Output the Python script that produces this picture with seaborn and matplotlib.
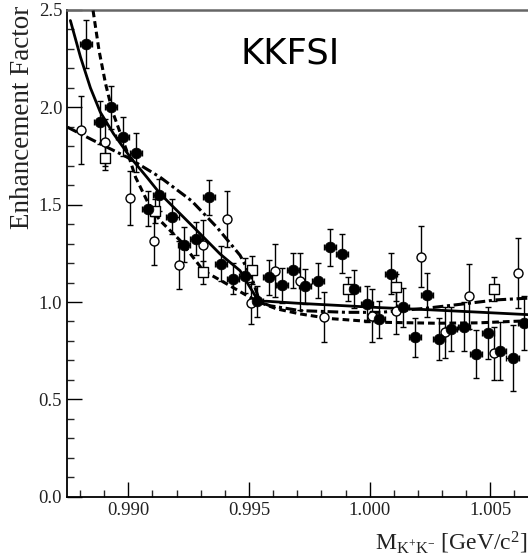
import numpy as np
import pandas as pd
import matplotlib
matplotlib.use("Agg")
import matplotlib.pyplot as plt
from matplotlib.ticker import MultipleLocator, FormatStrFormatter
import seaborn as sns

# ---------------- data ----------------
filled_x = [0.98826, 0.98881, 0.98930, 0.98976, 0.99030, 0.99080, 0.99128, 0.99183,
            0.99231, 0.99280, 0.99333, 0.99384, 0.99433, 0.99485, 0.99533, 0.99584,
            0.99635, 0.99683, 0.99734, 0.99785, 0.99835, 0.99884, 0.99937, 0.99989,
            1.00037, 1.00088, 1.00138, 1.00186, 1.00236, 1.00289, 1.00339, 1.00390,
            1.00441, 1.00489, 1.00540, 1.00592, 1.00640]
filled_y = [2.326, 1.923, 2.000, 1.850, 1.768, 1.478, 1.550, 1.439,
            1.293, 1.326, 1.538, 1.196, 1.119, 1.134, 1.004, 1.128,
            1.085, 1.163, 1.081, 1.110, 1.281, 1.249, 1.067, 0.990,
            0.911, 1.146, 0.973, 0.819, 1.036, 0.810, 0.862, 0.874,
            0.733, 0.839, 0.747, 0.711, 0.893]
filled_err = [0.125, 0.11, 0.11, 0.10, 0.10, 0.09, 0.08, 0.09,
              0.09, 0.085, 0.09, 0.09, 0.08, 0.09, 0.08, 0.09,
              0.09, 0.09, 0.09, 0.09, 0.095, 0.10, 0.10, 0.091,
              0.094, 0.106, 0.10, 0.10, 0.115, 0.11, 0.113, 0.124,
              0.124, 0.133, 0.15, 0.17, 0.14]
filled_xerr = 0.00025

open_x = [0.98805, 0.98905, 0.99005, 0.99107, 0.99208, 0.99309, 0.99408, 0.99508,
          0.99609, 0.99711, 0.99809, 1.00010, 1.00111, 1.00214, 1.00313, 1.00413,
          1.00514, 1.00614]
open_y = [1.884, 1.821, 1.535, 1.316, 1.190, 1.293, 1.427, 0.995,
          1.161, 1.106, 0.921, 0.930, 0.956, 1.233, 0.844, 1.029,
          0.737, 1.149]
open_err = [0.173, 0.12, 0.137, 0.127, 0.124, 0.13, 0.144, 0.11,
            0.135, 0.148, 0.128, 0.137, 0.12, 0.158, 0.13, 0.168,
            0.137, 0.18]

square_x = [0.98905, 0.99109, 0.99309, 0.99511, 0.99910, 1.00111, 1.00517]
square_y = [1.740, 1.468, 1.153, 1.165, 1.067, 1.076, 1.067]
square_err = [0.064, 0.06, 0.06, 0.07, 0.06, 0.07, 0.06]

solid_x = [0.98760, 0.98802, 0.98843, 0.98884, 0.98939, 0.99008, 0.99077, 0.99132,
           0.99215, 0.99298, 0.99380, 0.99463, 0.99504, 0.99540, 0.99573, 0.99711,
           1.00046, 1.00250, 1.00450, 1.00660]
solid_y = [2.446, 2.258, 2.100, 1.975, 1.864, 1.744, 1.641, 1.556,
           1.453, 1.350, 1.247, 1.161, 1.076, 1.003, 1.004, 0.993,
           0.971, 0.960, 0.948, 0.935]

dashed_x = [0.98854, 0.98879, 0.98906, 0.98934, 0.98968, 0.99003, 0.99030, 0.99084,
            0.99132, 0.99215, 0.99311, 0.99408, 0.99504, 0.99545, 0.99614, 0.99711,
            0.99835, 1.00046, 1.00276, 1.00450, 1.00660]
dashed_y = [2.497, 2.290, 2.120, 1.980, 1.864, 1.744, 1.641, 1.504,
            1.418, 1.316, 1.161, 1.093, 1.024, 0.998, 0.965, 0.939,
            0.915, 0.896, 0.891, 0.893, 0.904]

dashdot_x = [0.98748, 0.98857, 0.98995, 0.99132, 0.99262, 0.99367, 0.99463, 0.99511,
             0.99545, 0.99587, 0.99711, 0.99904, 1.00046, 1.00234, 1.00387, 1.00525,
             1.00660]
dashdot_y = [1.898, 1.829, 1.744, 1.641, 1.520, 1.384, 1.240, 1.127,
             1.000, 0.981, 0.956, 0.947, 0.947, 0.968, 0.990, 1.011,
             1.020]

x_major_ticks = [0.990, 0.995, 1.000, 1.005]
y_major_ticks = [0.0, 0.5, 1.0, 1.5, 2.0, 2.5]
title_text = "KKFSI"
y_label = "Enhancement Factor"
x_label = r"$\mathregular{M_{K^{+}K^{-}}}$ [GeV/c$^{2}$]"

# ---------------- style ----------------
sns.set_theme(style="ticks")
plt.rcParams["font.family"] = ["Liberation Serif", "DejaVu Serif"]
plt.rcParams["mathtext.fontset"] = "custom"
plt.rcParams["mathtext.rm"] = "Liberation Serif"
plt.rcParams["mathtext.it"] = "Liberation Serif:italic"

W, H = 528, 558
fig = plt.figure(figsize=(W / 100, H / 100), dpi=100)
fig.patch.set_facecolor("white")
ax = fig.add_axes([67 / W, (H - 496.7) / H, (530 - 67) / W, (496.7 - 10) / H])
ax.set_facecolor("white")

# curves
df_solid = pd.DataFrame({"x": solid_x, "y": solid_y})
df_dash = pd.DataFrame({"x": dashed_x, "y": dashed_y})
df_dd = pd.DataFrame({"x": dashdot_x, "y": dashdot_y})
sns.lineplot(data=df_solid, x="x", y="y", ax=ax, color="black", lw=2.0,
             estimator=None, sort=False, zorder=3)
sns.lineplot(data=df_dash, x="x", y="y", ax=ax, color="black", lw=2.2,
             estimator=None, sort=False, zorder=3, linestyle=(0, (2.2, 1.3)))
sns.lineplot(data=df_dd, x="x", y="y", ax=ax, color="black", lw=2.2,
             estimator=None, sort=False, zorder=3, linestyle=(0, (3.5, 1.2, 1.0, 1.2)))

# error bars
ax.errorbar(filled_x, filled_y, yerr=filled_err, xerr=filled_xerr, fmt="none",
            ecolor="black", elinewidth=1.0, capsize=2.2, capthick=1.0, zorder=4)
ax.errorbar(open_x, open_y, yerr=open_err, fmt="none",
            ecolor="black", elinewidth=1.0, capsize=2.2, capthick=1.0, zorder=4)
ax.errorbar(square_x, square_y, yerr=square_err, fmt="none",
            ecolor="black", elinewidth=1.0, capsize=2.2, capthick=1.0, zorder=4)

# markers
sns.scatterplot(x=square_x, y=square_y, ax=ax, marker="s", s=42,
                facecolor="white", edgecolor="black", linewidth=1.0, zorder=5)
sns.scatterplot(x=open_x, y=open_y, ax=ax, marker="o", s=42,
                facecolor="white", edgecolor="black", linewidth=1.0, zorder=5)
sns.scatterplot(x=filled_x, y=filled_y, ax=ax, marker="o", s=60,
                color="black", edgecolor="black", linewidth=0.5, zorder=6)

# axes
ax.set_xlim(0.98746, 1.006644)
ax.set_ylim(0.0, 2.5)
ax.set_xticks(x_major_ticks)
ax.set_yticks(y_major_ticks)
ax.xaxis.set_minor_locator(MultipleLocator(0.001))
ax.yaxis.set_minor_locator(MultipleLocator(0.1))
ax.xaxis.set_major_formatter(FormatStrFormatter("%.3f"))
ax.yaxis.set_major_formatter(FormatStrFormatter("%.1f"))
ax.tick_params(axis="both", which="major", direction="in", length=10.5, width=1.0,
               labelsize=13.5, pad=3.5, colors="black", labelcolor="#222222")
ax.tick_params(axis="both", which="minor", direction="in", length=5.0, width=1.0)
ax.tick_params(axis="y", which="both", right=False)
ax.tick_params(axis="x", which="both", top=False)
ax.set_xlabel("")
ax.set_ylabel("")
for s in ["left", "bottom"]:
    ax.spines[s].set_color("black")
    ax.spines[s].set_linewidth(1.3)
ax.spines["top"].set_color("#666666")
ax.spines["top"].set_linewidth(1.8)
ax.spines["right"].set_visible(False)

# texts
fig.text(290 / W, 1 - 54 / H, title_text, ha="center", va="center",
         fontsize=25.5, family=["DejaVu Sans"], color="black")
fig.text(23 / W, 1 - 6 / H, y_label, rotation=90, ha="center", va="top",
         fontsize=19.5, color="#222222")
fig.text(527 / W, 1 - 550 / H, x_label, ha="right", va="baseline",
         fontsize=17, color="#222222")

fig.savefig("out.png", dpi=100, facecolor="white")
